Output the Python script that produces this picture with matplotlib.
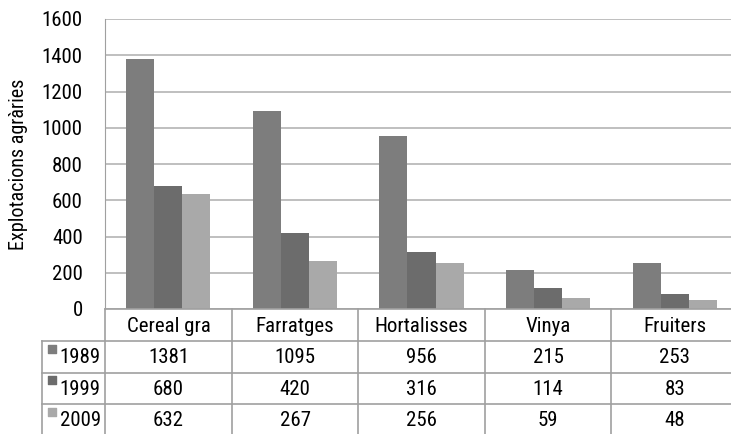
import numpy as np
import matplotlib
matplotlib.use("Agg")
from matplotlib import pyplot as plt

plt.rcParams['font.family'] = ['Roboto Condensed', 'DejaVu Sans']

categories = ['Cereal gra', 'Farratges', 'Hortalisses', 'Vinya', 'Fruiters']
years = ['1989', '1999', '2009']
v1989 = [1381, 1095, 956, 215, 253]
v1999 = [680, 420, 316, 114, 83]
v2009 = [632, 267, 256, 59, 48]
series = [v1989, v1999, v2009]
colors = ['#7d7d7d', '#6c6c6c', '#a9a9a9']

W, H = 731, 434
fig = plt.figure(figsize=(W / 100, H / 100), dpi=100)

def px(x0, y0, x1, y1):
    return [x0 / W, 1 - y1 / H, (x1 - x0) / W, (y1 - y0) / H]

grid_c = '#b4b4b4'
line_c = '#a0a0a0'

#--- bars ---------------------------------------------------------------------#
ax = fig.add_axes(px(105, 19, 738, 309))
ind = np.arange(len(categories))
width = 0.222
for i, vals in enumerate(series):
    ax.bar(ind + (i - 1) * width, vals, width, color=colors[i], zorder=3)

ax.set_xlim(-0.5, len(categories) - 0.5)
ax.set_ylim(0, 1600)
ax.set_yticks(np.arange(0, 1601, 200))
ax.yaxis.grid(True, color=grid_c, linewidth=1.2, zorder=0)
ax.set_xticks([])
ax.tick_params(axis='y', length=0, labelsize=15, pad=16)
for s in ['top', 'right', 'bottom']:
    ax.spines[s].set_visible(False)
ax.spines['left'].set_color(line_c)
ax.set_ylabel('Explotacions agràries', fontsize=14.5, labelpad=10)

#--- data table ---------------------------------------------------------------#
tx = fig.add_axes(px(42, 309, 738, 436))
tx.set_xlim(-1.0, len(categories) - 0.5)
tx.set_ylim(4, 0)
tx.axis('off')

n = len(categories)
tx.plot([-0.5, n - 0.5], [0, 0], color=line_c, lw=1.2, clip_on=False)
for r in range(1, 4):
    tx.plot([-1.0, n - 0.5], [r, r], color=line_c, lw=1.2, clip_on=False)
tx.plot([-1.0, -1.0], [1, 4], color=line_c, lw=1.2, clip_on=False)
for c in range(n + 1):
    tx.plot([c - 0.5, c - 0.5], [0, 4], color=line_c, lw=1.2, clip_on=False)

for c, name in enumerate(categories):
    tx.text(c, 0.55, name, ha='center', va='center', fontsize=15)
for r, (yr, vals) in enumerate(zip(years, series)):
    tx.scatter([-0.92], [r + 1.25], marker='s', s=33, color=colors[r], clip_on=False)
    tx.text(-0.535, r + 1.52, yr, ha='right', va='center', fontsize=15)
    for c, v in enumerate(vals):
        tx.text(c, r + 1.52, str(v), ha='center', va='center', fontsize=15)

plt.savefig('out.png', dpi=100)
